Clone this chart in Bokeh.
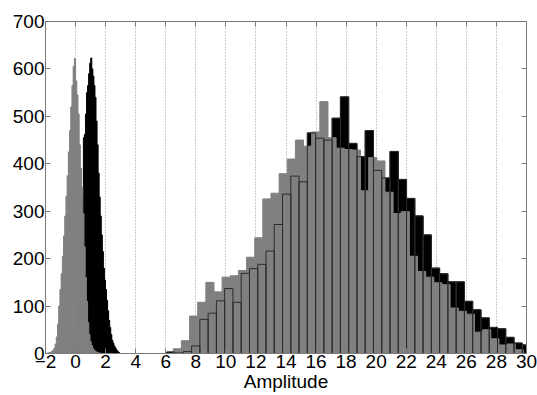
from bokeh.plotting import figure
from bokeh.models import Range1d, LinearAxis, FixedTicker
from bokeh.embed import file_html
from bokeh.resources import INLINE

# Narrow-bin histograms around zero (bin start, bin width, counts per bin)
gray_lo_start, gray_lo_width = -1.92, 0.08
gray_lo = [1, 1, 2, 3, 4, 7, 11, 20, 35, 62, 100, 135, 168, 205, 248, 290,
           332, 375, 425, 470, 520, 565, 605, 622, 575, 545, 505, 440, 390,
           350, 295, 225, 160, 110, 65, 40, 25, 17, 11, 7, 5, 3, 2, 1, 1, 0]

black_lo_start, black_lo_width = -0.53, 0.07
black_lo = [2, 3, 5, 9, 16, 30, 50, 72, 92, 115, 140, 175, 215, 268, 330,
            455, 462, 505, 550, 565, 590, 612, 623, 600, 585, 565, 540, 490,
            440, 380, 330, 290, 250, 215, 180, 155, 135, 112, 90, 70, 55, 40,
            28, 22, 16, 12, 8, 5, 3, 1]

# Wide-bin histograms of the signal part
gray_hi_start, gray_hi_width = 6.50, 0.5417
gray_hi = [10, 27, 79, 108, 150, 130, 161, 164, 175, 203, 244, 326, 338, 379,
           410, 450, 437, 467, 531, 455, 433, 430, 429, 343, 413, 406, 340,
           295, 299, 205, 173, 161, 149, 145, 96, 89, 83, 45, 50, 31, 18, 20, 8]

black_hi_start, black_hi_width = 6.07, 0.55
black_hi = [3, 1, 4, 16, 72, 85, 111, 137, 108, 169, 179, 188, 216, 272, 336,
            374, 362, 465, 454, 450, 496, 541, 443, 415, 470, 386, 370, 426,
            367, 327, 290, 250, 180, 168, 151, 151, 110, 92, 75, 55, 52, 34,
            22, 18]

x_ticks = list(range(-2, 31, 2))
y_ticks = list(range(0, 701, 100))


def bins(start, width, counts):
    left = [start + i * width for i in range(len(counts))]
    right = [l + width for l in left]
    return left, right, counts


GRAY = "#808080"
AXIS = "#7a7a7a"
FONT = "Liberation Sans"

p = figure(width=537, height=395, x_range=Range1d(-2, 30), y_range=Range1d(0, 700),
           output_backend="svg", toolbar_location=None,
           min_border_left=45, min_border_right=11, min_border_top=21,
           min_border_bottom=42)
p.outline_line_color = AXIS
p.background_fill_color = "white"
p.border_fill_color = "white"

# black histograms first, gray ones in front
for start, width, counts in [(black_lo_start, black_lo_width, black_lo),
                             (black_hi_start, black_hi_width, black_hi)]:
    l, r, t = bins(start, width, counts)
    p.quad(left=l, right=r, top=t, bottom=0, fill_color="black",
           line_color="black", line_width=1)

for start, width, counts in [(gray_lo_start, gray_lo_width, gray_lo),
                             (gray_hi_start, gray_hi_width, gray_hi)]:
    l, r, t = bins(start, width, counts)
    p.quad(left=l, right=r, top=t, bottom=0, fill_color=GRAY,
           line_color=GRAY, line_width=1)

# edges of the wide black bins show through the gray bars
l, r, t = bins(black_hi_start, black_hi_width, black_hi)
p.quad(left=l, right=r, top=t, bottom=0, fill_color=None,
       line_color="#2b2b2b", line_width=1)

# axes
p.xaxis.ticker = FixedTicker(ticks=x_ticks)
p.yaxis.ticker = FixedTicker(ticks=y_ticks)
p.xaxis.axis_label = "Amplitude"
p.xaxis.axis_label_text_font = FONT
p.xaxis.axis_label_text_font_size = "19px"
p.xaxis.axis_label_text_font_style = "normal"
p.xaxis.axis_label_text_color = "black"
p.xaxis.axis_label_standoff = 0

for ax in (p.xaxis[0], p.yaxis[0]):
    ax.axis_line_color = AXIS
    ax.major_tick_line_color = AXIS
    ax.major_tick_in = 5
    ax.major_tick_out = 0
    ax.minor_tick_line_color = None
    ax.major_label_text_font = FONT
    ax.major_label_text_font_size = "19px"
    ax.major_label_text_color = "black"
    ax.major_label_standoff = 1

# tick marks on the top and right edges of the box, without labels
right = LinearAxis(ticker=FixedTicker(ticks=y_ticks),
                   major_label_overrides={t: "" for t in y_ticks})
top = LinearAxis(ticker=FixedTicker(ticks=x_ticks),
                 major_label_overrides={t: "" for t in x_ticks})
for ax in (right, top):
    ax.axis_line_color = AXIS
    ax.major_tick_line_color = AXIS
    ax.major_tick_in = 5
    ax.major_tick_out = 0
    ax.minor_tick_line_color = None
    ax.major_label_standoff = 0
p.add_layout(right, "right")
p.add_layout(top, "above")

# dotted vertical grid only
p.xgrid.ticker = FixedTicker(ticks=x_ticks)
p.xgrid.grid_line_color = "#999999"
p.xgrid.grid_line_dash = "1 2"
p.xgrid.grid_line_width = 1
p.ygrid.grid_line_color = None

open("out.html", "w").write(file_html(p, INLINE))
